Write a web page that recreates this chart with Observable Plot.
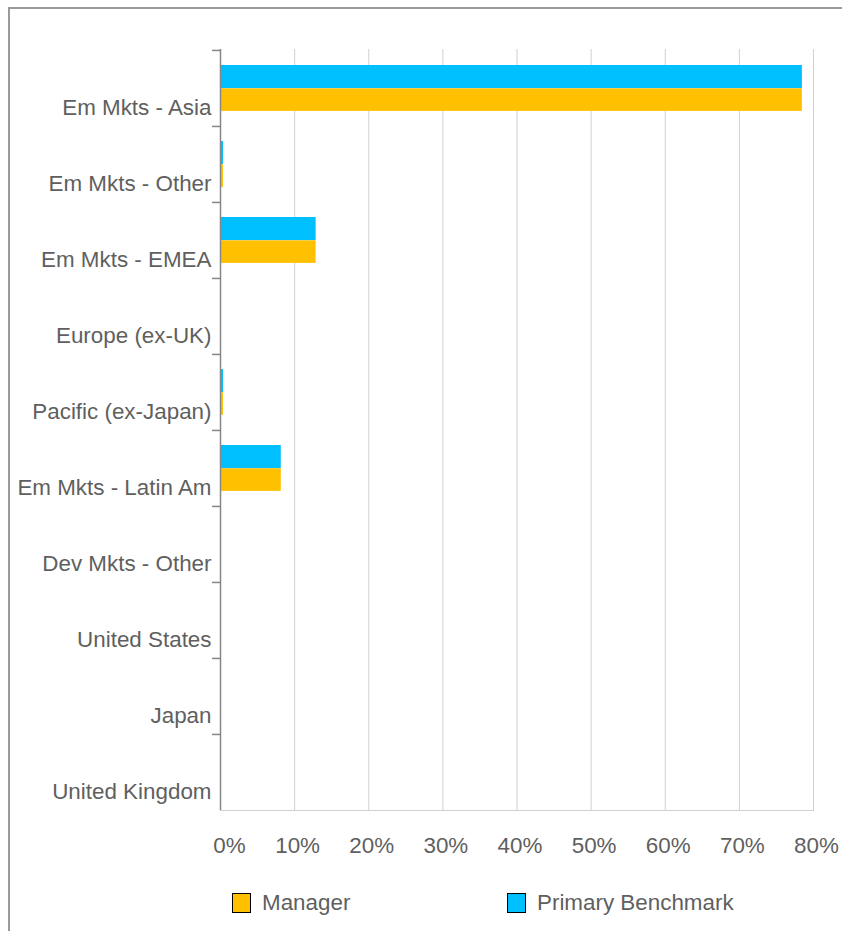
<!DOCTYPE html>
<html><head><meta charset="utf-8">
<script src="https://cdn.jsdelivr.net/npm/d3@7"></script>
<script src="https://cdn.jsdelivr.net/npm/@observablehq/plot@0.6"></script>
<style>
body{margin:0;background:#fff;font-family:"Liberation Sans",Arial,sans-serif;}
#wrap{position:relative;width:842px;height:931px;overflow:hidden;background:#fff;}
#frame{position:absolute;left:8px;top:7px;width:1000px;height:1000px;border-left:2px solid #9a9a9a;border-top:2px solid #9a9a9a;box-sizing:border-box;}
#chart{position:absolute;left:0;top:0;}
.lg{position:absolute;top:893px;display:flex;align-items:center;font-size:22.4px;color:#5f5f5f;height:20px;}
.sw{width:19px;height:20px;border:1px solid #000;box-sizing:border-box;margin-right:11px;}
</style></head>
<body><div id="wrap"><div id="frame"></div><div id="chart"></div><div id="legend"></div></div>
<script>
const categories = ["Em Mkts - Asia","Em Mkts - Other","Em Mkts - EMEA","Europe (ex-UK)","Pacific (ex-Japan)","Em Mkts - Latin Am","Dev Mkts - Other","United States","Japan","United Kingdom"];
const manager   = [78.5, 0.4, 12.9, 0, 0.4, 8.2, 0.1, 0, 0, 0];
const benchmark = [78.5, 0.4, 12.9, 0, 0.4, 8.2, 0.1, 0, 0, 0];
const series = ["Manager", "Primary Benchmark"];
const colors = ["#FFC000", "#00BFFF"];
const xTicks = [0, 10, 20, 30, 40, 50, 60, 70, 80];

const mData = categories.map((c, i) => ({category: c, value: manager[i], series: series[0]}));
const bData = categories.map((c, i) => ({category: c, value: benchmark[i], series: series[1]}));

const H = 880, mt = 49, mb = 70;
const band = (H - mt - mb) / categories.length;
const fmt = d => d + "%";

const chart = Plot.plot({
  width: 842, height: H,
  marginTop: mt, marginBottom: mb, marginLeft: 220, marginRight: 29,
  style: {fontFamily: "'Liberation Sans', Arial, sans-serif", fontSize: "22.4px", color: "#5f5f5f", background: "transparent"},
  x: {domain: [0, 80], ticks: xTicks},
  y: {domain: categories, padding: 0},
  color: {domain: series, range: colors},
  marks: [
    Plot.gridX(xTicks, {stroke: "#d0d0d0", strokeOpacity: 1, strokeWidth: 1}),
    Plot.frame({anchor: "bottom", stroke: "#d0d0d0"}),
    Plot.barX(bData, {x: "value", y: "category", fill: "series", insetTop: 15, insetBottom: band - 38.3}),
    Plot.barX(mData, {x: "value", y: "category", fill: "series", insetTop: 38.3, insetBottom: band - 61}),
    Plot.ruleX([0], {stroke: "#868686", strokeWidth: 1.5}),
    Plot.axisX({ticks: xTicks.filter(d => d > 0), tickSize: 0, tickPadding: 27, dx: 3, tickFormat: fmt, label: null, fill: "#5f5f5f"}),
    Plot.axisX({ticks: xTicks.filter(d => d === 0), tickSize: 0, tickPadding: 27, dx: 9, tickFormat: fmt, label: null, fill: "#5f5f5f"}),
    Plot.axisY({tickSize: 0, tickPadding: 9, dy: 19, label: null, fill: "#5f5f5f"}),
    Plot.axisY({tickSize: 8, dy: -band / 2, tickFormat: () => "", label: null, stroke: "#868686", strokeWidth: 1.5})
  ]
});
document.getElementById("chart").appendChild(chart);

const legendPos = [232, 507];
const lg = document.getElementById("legend");
series.forEach((s, i) => {
  const item = document.createElement("div");
  item.className = "lg";
  item.style.left = legendPos[i] + "px";
  const sw = document.createElement("div");
  sw.className = "sw";
  sw.style.background = colors[i];
  const t = document.createElement("span");
  t.textContent = s;
  item.appendChild(sw); item.appendChild(t);
  lg.appendChild(item);
});
</script></body></html>
